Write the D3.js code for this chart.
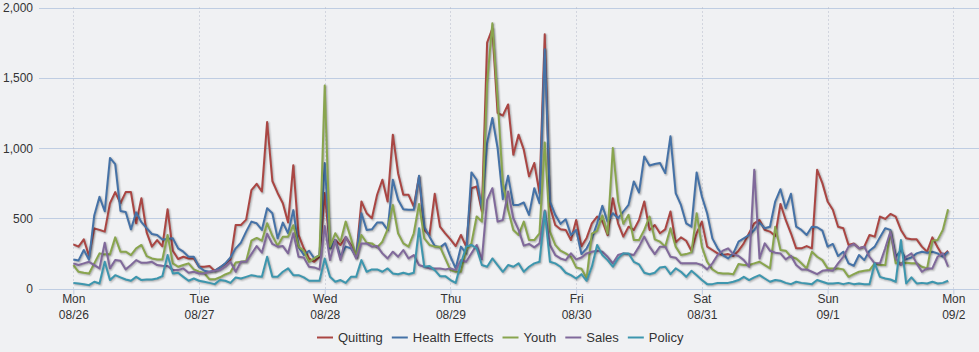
<!DOCTYPE html>
<html>
<head>
<meta charset="utf-8">
<script src="https://cdn.jsdelivr.net/npm/d3@7"></script>
<style>
  html, body { margin: 0; padding: 0; background: #f0f1f3; }
  #chart { width: 979px; height: 352px; }
  text { font-family: "Liberation Sans", Arial, sans-serif; }
</style>
</head>
<body>
<div id="chart"></div>
<script>
// hourly counts, Mon 08/26 00:00 through Sun 09/01 23:00
const startTime = new Date(2013, 7, 26, 0, 0);
const dayTicks = ["Mon|08/26", "Tue|08/27", "Wed|08/28", "Thu|08/29", "Fri|08/30", "Sat|08/31", "Sun|09/1", "Mon|09/2"];
const yTicks = [0, 500, 1000, 1500, 2000];

const quitting = [
  314, 298, 350, 232, 428, 417, 405, 607, 686, 607, 686, 686, 464, 643, 400, 298, 345, 300, 564, 269, 210, 226, 214, 214,
  155, 155, 160, 125, 150, 175, 205, 452, 452, 490, 700, 745, 690, 1185, 765, 680, 607, 470, 878, 381, 286, 214, 190, 226,
  679, 286, 345, 310, 364, 310, 226, 619, 536, 500, 667, 774, 619, 1095, 821, 667, 667, 583, 798, 417, 381, 674, 440, 393,
  350, 302, 381, 298, 714, 726, 548, 1750, 1850, 1250, 1231, 1310, 952, 1095, 988, 798, 893, 679, 1810, 583, 452, 421, 417, 345,
  488, 300, 360, 464, 512, 480, 380, 643, 464, 369, 440, 417, 488, 619, 417, 452, 393, 421, 548, 329, 364, 340, 269, 393,
  476, 298, 274, 250, 238, 245, 231, 269, 321, 393, 464, 488, 417, 405, 374, 602, 488, 393, 286, 286, 302, 286, 845, 750,
  619, 560, 440, 429, 310, 321, 286, 298, 381, 369, 512, 495, 531, 512, 417, 357, 350, 350, 298, 262, 364, 293, 231, 269
];
const healthEffects = [
  207, 200, 274, 205, 520, 652, 550, 929, 885, 552, 545, 421, 542, 472, 430, 388, 381, 348, 352, 357, 286, 262, 226, 226,
  155, 126, 119, 126, 150, 179, 221, 286, 326, 405, 476, 464, 417, 571, 536, 357, 469, 393, 558, 298, 238, 269, 214, 238,
  893, 286, 345, 226, 298, 286, 226, 536, 417, 421, 469, 469, 417, 774, 631, 564, 560, 560, 802, 440, 369, 302, 293, 321,
  226, 143, 298, 250, 826, 774, 571, 1036, 1214, 1000, 636, 802, 595, 595, 612, 524, 714, 607, 1702, 619, 524, 460, 493, 381,
  417, 245, 286, 357, 464, 588, 476, 536, 500, 548, 595, 762, 683, 940, 876, 886, 893, 821, 1083, 679, 595, 464, 440, 826,
  655, 536, 357, 286, 238, 214, 250, 333, 357, 381, 417, 469, 429, 440, 619, 707, 571, 674, 440, 417, 381, 440, 436, 412,
  298, 317, 231, 262, 179, 162, 238, 202, 269, 298, 364, 429, 417, 226, 274, 207, 221, 250, 262, 255, 262, 250, 226, 262
];
const youth = [
  167, 119, 112, 107, 179, 250, 243, 243, 364, 262, 262, 238, 286, 310, 231, 214, 207, 207, 381, 179, 155, 167, 179, 136,
  120, 110, 65, 65, 80, 100, 115, 185, 190, 195, 340, 360, 340, 465, 375, 305, 369, 369, 450, 298, 269, 190, 214, 238,
  1445, 298, 393, 333, 476, 357, 226, 381, 326, 321, 293, 333, 421, 595, 393, 321, 298, 393, 602, 357, 310, 298, 298, 214,
  131, 119, 119, 274, 321, 512, 476, 1464, 1888, 1350, 750, 560, 417, 381, 476, 345, 345, 393, 1040, 405, 310, 269, 250, 226,
  150, 140, 75, 390, 410, 520, 390, 1000, 620, 460, 524, 345, 345, 417, 512, 350, 333, 298, 429, 298, 238, 245, 257, 536,
  298, 190, 136, 112, 107, 107, 102, 174, 167, 167, 179, 190, 167, 143, 440, 274, 269, 226, 214, 179, 143, 262, 226, 202,
  143, 143, 143, 136, 83, 102, 119, 126, 131, 179, 167, 167, 405, 179, 179, 183, 179, 179, 155, 143, 340, 345, 417, 564
];
const sales = [
  179, 167, 179, 190, 167, 143, 326, 143, 202, 198, 136, 167, 202, 183, 183, 190, 167, 162, 160, 131, 131, 143, 112, 119,
  107, 107, 119, 126, 131, 155, 190, 119, 190, 190, 245, 302, 255, 390, 317, 298, 302, 250, 393, 226, 221, 155, 150, 136,
  445, 202, 345, 202, 369, 298, 214, 321, 321, 298, 302, 250, 214, 262, 226, 274, 214, 238, 167, 155, 143, 143, 143, 136,
  143, 131, 202, 190, 250, 310, 207, 631, 714, 476, 488, 690, 500, 417, 305, 317, 293, 321, 555, 310, 238, 214, 202, 250,
  207, 221, 250, 262, 269, 262, 226, 179, 238, 250, 245, 238, 298, 369, 298, 245, 298, 298, 226, 219, 179, 179, 179, 179,
  167, 136, 179, 238, 269, 286, 245, 231, 202, 155, 845, 214, 321, 269, 255, 250, 207, 233, 167, 136, 136, 119, 102, 126,
  131, 126, 179, 226, 298, 317, 286, 298, 226, 179, 179, 286, 405, 214, 167, 226, 250, 179, 119, 143, 143, 226, 250, 155
];
const policy = [
  40, 36, 31, 24, 48, 36, 190, 60, 95, 79, 64, 55, 83, 60, 64, 64, 71, 88, 238, 107, 112, 83, 55, 71,
  55, 48, 40, 31, 60, 55, 40, 79, 71, 83, 95, 88, 83, 226, 83, 83, 119, 143, 95, 95, 79, 55, 55, 55,
  214, 83, 48, 60, 40, 83, 83, 202, 119, 136, 136, 119, 143, 107, 102, 112, 102, 112, 429, 155, 160, 131, 88, 88,
  60, 40, 179, 298, 310, 286, 167, 155, 214, 167, 119, 167, 155, 179, 119, 155, 179, 190, 548, 190, 179, 155, 112, 95,
  71, 102, 55, 155, 310, 238, 202, 155, 214, 250, 250, 190, 171, 112, 102, 112, 150, 155, 102, 143, 119, 83, 126, 95,
  60, 31, 31, 40, 40, 40, 48, 60, 83, 60, 79, 95, 71, 48, 60, 55, 40, 31, 48, 40, 36, 31, 60, 48,
  36, 36, 40, 31, 40, 31, 36, 31, 31, 179, 83, 71, 64, 48, 345, 36, 79, 36, 40, 36, 48, 36, 40, 55
];

const seriesNames = ["Quitting", "Health Effects", "Youth", "Sales", "Policy"];
const seriesColors = ["#aa4643", "#4572a7", "#89a54e", "#80699b", "#3d96ae"];
const seriesValues = [quitting, healthEffects, youth, sales, policy];

const width = 979;
const height = 352;
const plot = { left: 39, right: 979, top: 7.5, bottom: 288.5 };

const svg = d3
  .select("#chart")
  .append("svg")
  .attr("width", width)
  .attr("height", height);

svg.append("rect").attr("width", width).attr("height", height).attr("fill", "#f0f1f3");

const day = 24 * 3600 * 1000;
const x = d3
  .scaleTime()
  .domain([startTime, new Date(startTime.getTime() + 7 * day)])
  .range([73.3, 953.3]);

const y = d3
  .scaleLinear()
  .domain([0, 2000])
  .range([plot.bottom, plot.top]);

// horizontal grid
svg
  .append("g")
  .selectAll("line")
  .data(yTicks)
  .enter()
  .append("line")
  .attr("x1", plot.left)
  .attr("x2", plot.right)
  .attr("y1", (d) => Math.round(y(d)) + 0.5)
  .attr("y2", (d) => Math.round(y(d)) + 0.5)
  .attr("stroke", "#bfcde2")
  .attr("stroke-width", 1);

const dayDates = dayTicks.map((t, i) => new Date(startTime.getTime() + i * day));

// dotted day lines
svg
  .append("g")
  .selectAll("line")
  .data(dayDates)
  .enter()
  .append("line")
  .attr("x1", (d) => Math.round(x(d)) + 0.5)
  .attr("x2", (d) => Math.round(x(d)) + 0.5)
  .attr("y1", plot.top)
  .attr("y2", plot.bottom)
  .attr("stroke", "#b4b8c8")
  .attr("stroke-dasharray", "1,3");

// y axis labels
const yAxis = svg
  .append("g")
  .attr("transform", `translate(33,0)`)
  .call(d3.axisLeft(y).tickValues(yTicks).tickSize(0).tickPadding(0).tickFormat(d3.format(",")));
yAxis.select(".domain").remove();
yAxis
  .selectAll("text")
  .attr("font-size", 12)
  .attr("fill", "#333")
  .attr("dy", "0.35em");

// x axis with two-line labels
const xAxis = svg
  .append("g")
  .attr("transform", `translate(0,${Math.round(plot.bottom) + 0.5})`)
  .call(d3.axisBottom(x).tickValues(dayDates).tickSize(5).tickFormat(() => ""));
xAxis.select(".domain").remove();
xAxis.selectAll("line").attr("stroke", "#bfcde2");
xAxis.selectAll("text").remove();
xAxis
  .selectAll(".tick")
  .append("text")
  .attr("text-anchor", "middle")
  .attr("font-size", 12)
  .attr("fill", "#333")
  .selectAll("tspan")
  .data((d, i) => dayTicks[i].split("|"))
  .enter()
  .append("tspan")
  .attr("x", 0)
  .attr("y", (d, i) => 13 + i * 16)
  .text((d) => d);

// series lines with shadow
const line = d3
  .line()
  .x((d, i) => x(new Date(startTime.getTime() + i * 3600 * 1000)))
  .y((d) => y(d));

const linesG = svg.append("g");
seriesValues.forEach((vals, si) => {
  const g = linesG.append("g");
  [[5, 0.05], [3, 0.1], [1, 0.15]].forEach(([w, o]) => {
    g.append("path")
      .datum(vals)
      .attr("d", line)
      .attr("fill", "none")
      .attr("stroke", "#000")
      .attr("stroke-opacity", o)
      .attr("stroke-width", w)
      .attr("stroke-linejoin", "round")
      .attr("transform", "translate(1,1)");
  });
  g.append("path")
    .datum(vals)
    .attr("d", line)
    .attr("fill", "none")
    .attr("stroke", seriesColors[si])
    .attr("stroke-width", 2)
    .attr("stroke-linejoin", "round");
});

// legend
const legend = svg.append("g").attr("transform", "translate(0,337)");
let lx = 317;
seriesNames.forEach((name, i) => {
  const item = legend.append("g").attr("transform", `translate(${lx},0)`);
  item
    .append("line")
    .attr("x1", 0)
    .attr("x2", 16)
    .attr("y1", 0.5)
    .attr("y2", 0.5)
    .attr("stroke", seriesColors[i])
    .attr("stroke-width", 2);
  const t = item
    .append("text")
    .attr("x", 21)
    .attr("y", 0)
    .attr("dy", "0.35em")
    .attr("font-size", 13)
    .attr("fill", "#333")
    .text(name);
  lx += 21 + t.node().getComputedTextLength() + 9;
});
</script>
</body>
</html>
